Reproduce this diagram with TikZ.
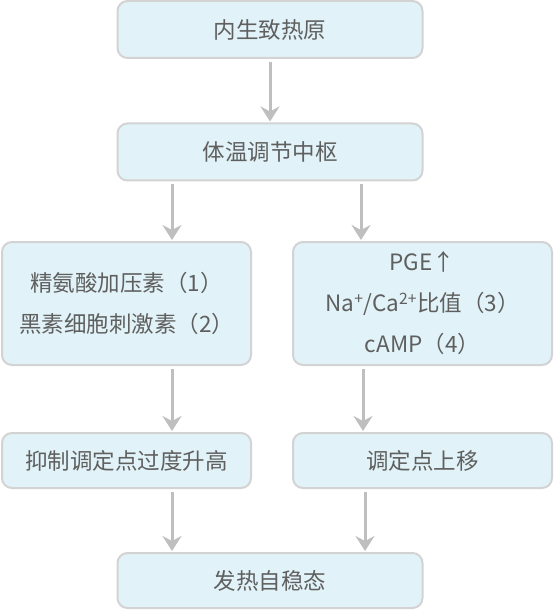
\documentclass[tikz,border=0pt]{standalone}
\usepackage{fontspec}
\setmainfont{Noto Sans CJK SC}
\usetikzlibrary{arrows.meta}
\definecolor{boxfill}{HTML}{E1F3F8}
\definecolor{boxline}{HTML}{D3D3D3}
\definecolor{arrowgray}{HTML}{BFBFBF}
\definecolor{textgray}{HTML}{5F5F5F}

\begin{document}
\begin{tikzpicture}[x=1pt, y=-1pt,
    stepbox/.style={draw=boxline, fill=boxfill, line width=2pt,
        rounded corners=10pt, text=textgray, align=center,
        font=\fontsize{22.5}{41}\selectfont, inner sep=0pt},
    wide/.style={stepbox, minimum width=305pt, minimum height=57pt},
    half/.style={stepbox, minimum width=249pt},
    flow/.style={draw=arrowgray, line width=3pt,
        -{Stealth[length=15pt, width=19pt, inset=5pt]},
        shorten <=3pt, shorten >=1pt}]
\useasboundingbox (0,0) rectangle (554,612);
\node[wide] (pyrogen) at (270,29.5) {内生致热原};
\node[wide] (center) at (270,152) {体温调节中枢};
\node[half, minimum height=123pt] (avp) at (126.5,303.5)
    {精氨酸加压素（1）\\黑素细胞刺激素（2）};
\node[half, minimum height=123pt, minimum width=259pt] (pge) at (422.5,303.5)
    {PGE↑\\Na\textsuperscript{+}/Ca\textsuperscript{2+}比值（3）\\cAMP（4）};
\node[half, minimum height=55pt] (limit) at (126.5,460.5) {抑制调定点过度升高};
\node[half, minimum height=55pt, minimum width=259pt] (shift) at (422.5,460.5) {调定点上移};
\node[wide, minimum height=55pt] (balance) at (270,580.5) {发热自稳态};

\draw[flow] (pyrogen) -- (center);
\draw[flow] (center.south -| 172,0) -- (avp.north -| 172,0);
\draw[flow] (center.south -| 361,0) -- (pge.north -| 361,0);
\draw[flow] (avp.south -| 172,0) -- (limit.north -| 172,0);
\draw[flow] (pge.south -| 363,0) -- (shift.north -| 363,0);
\draw[flow] (limit.south -| 172,0) -- (balance.north -| 172,0);
\draw[flow] (shift.south -| 365,0) -- (balance.north -| 365,0);
\end{tikzpicture}
\end{document}
